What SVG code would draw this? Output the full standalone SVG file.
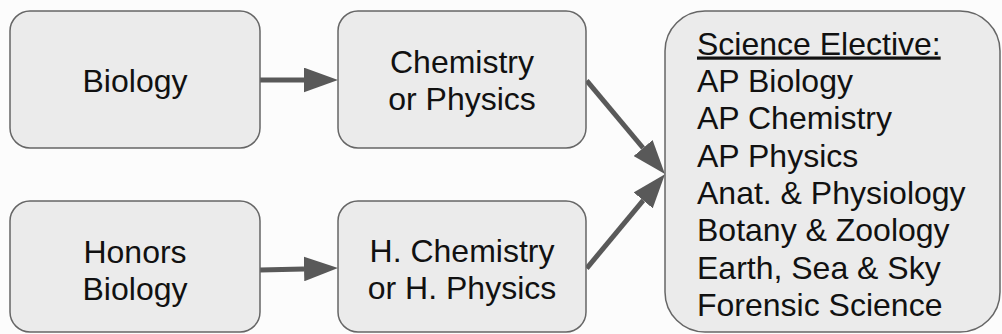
<svg xmlns="http://www.w3.org/2000/svg" width="1002" height="334" viewBox="0 0 1002 334">
<style>
.box{fill:#ebebeb;stroke:#666666;stroke-width:1.5}
.t{font-family:"Liberation Sans",Arial,sans-serif;font-size:32px;fill:#111111}
.c{text-anchor:middle}
.conn{stroke:#595959;stroke-width:5;fill:none;marker-end:url(#ah)}
</style>
<defs>
<marker id="ah" markerUnits="userSpaceOnUse" markerWidth="34" markerHeight="25" refX="0" refY="12" orient="auto" viewBox="0 0 33 24">
<path d="M0,0 L33,12 L0,24 z" fill="#595959"/>
</marker>
</defs>
<rect width="1002" height="334" fill="#fcfcfc"/>
<g id="connectors">
<path class="conn" d="M260,80 L304,80"/>
<path class="conn" d="M260,270 L304,268.9"/>
<path class="conn" d="M586.7,80.7 L643.1,148"/>
<path class="conn" d="M586.7,268.3 L643.2,200.4"/>
</g>
<g id="biology">
<rect class="box" x="10" y="11" width="250" height="137" rx="20"/>
<text class="t c" x="135" y="92">Biology</text>
</g>
<g id="chemistry-or-physics">
<rect class="box" x="338" y="11" width="248" height="137" rx="20"/>
<text class="t c" x="462" y="73">Chemistry</text>
<text class="t c" x="462" y="110">or Physics</text>
</g>
<g id="honors-biology">
<rect class="box" x="10" y="201" width="250" height="131" rx="20"/>
<text class="t c" x="135" y="263">Honors</text>
<text class="t c" x="135" y="300">Biology</text>
</g>
<g id="h-chemistry-or-h-physics">
<rect class="box" x="338" y="201" width="248" height="131" rx="20"/>
<text class="t c" x="462" y="262">H. Chemistry</text>
<text class="t c" x="462" y="299">or H. Physics</text>
</g>
<g id="science-elective">
<rect class="box" x="665" y="11" width="335" height="321" rx="40"/>
<text class="t" x="697" y="54.5" text-decoration="underline">Science Elective:</text>
<text class="t" x="697" y="91.8">AP Biology</text>
<text class="t" x="697" y="129.2">AP Chemistry</text>
<text class="t" x="697" y="166.5">AP Physics</text>
<text class="t" x="697" y="203.9">Anat. &amp; Physiology</text>
<text class="t" x="697" y="241.2">Botany &amp; Zoology</text>
<text class="t" x="697" y="278.6">Earth, Sea &amp; Sky</text>
<text class="t" x="697" y="316">Forensic Science</text>
</g>
</svg>
